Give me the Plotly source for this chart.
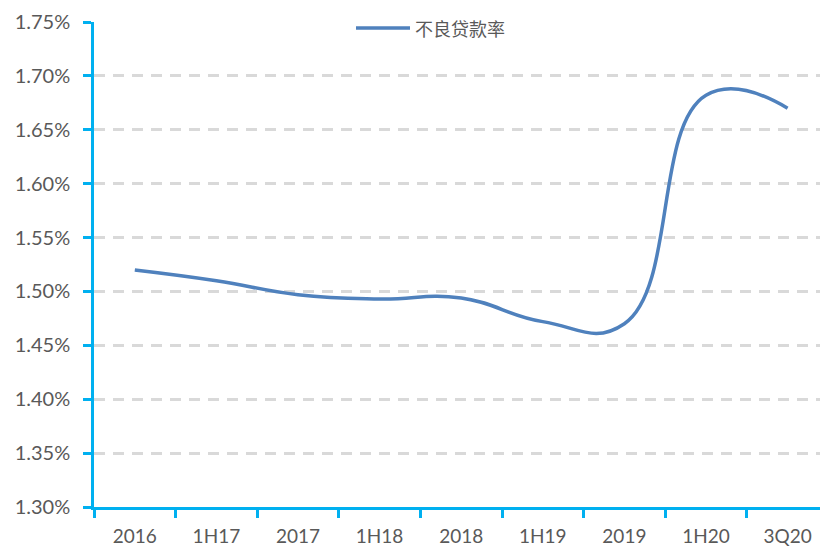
import plotly.graph_objects as go

categories = ["2016", "1H17", "2017", "1H18", "2018", "1H19", "2019", "1H20", "3Q20"]
npl_ratio = [1.52, 1.51, 1.497, 1.493, 1.494, 1.472, 1.47, 1.682, 1.67]
series_name = "不良贷款率"
y_ticks = [1.30, 1.35, 1.40, 1.45, 1.50, 1.55, 1.60, 1.65, 1.70, 1.75]
y_ticktext = [f"{v:.2f}%" for v in y_ticks]

LINE_COLOR = "#4F81BD"
AXIS_COLOR = "#00B0F0"
TEXT_COLOR = "#595959"
GRID_COLOR = "#D9D9D9"

fig = go.Figure()
fig.add_trace(go.Scatter(
    x=categories, y=npl_ratio, mode="lines", name=series_name,
    line=dict(color=LINE_COLOR, width=3.5, shape="spline", smoothing=1.3),
    showlegend=False,
))

# custom legend (white box over top gridline, long line sample, label)
fig.add_shape(type="rect", xref="paper", yref="paper",
              x0=(350 - 94) / 726, x1=(512 - 94) / 726, y0=1 - 18 / 485, y1=1 + 14 / 485,
              fillcolor="white", line=dict(width=0), layer="above")
fig.add_shape(type="line", xref="paper", yref="paper",
              x0=(356 - 94) / 726, x1=(410 - 94) / 726, y0=1 - 6 / 485, y1=1 - 6 / 485,
              line=dict(color=LINE_COLOR, width=3.5), layer="above")
fig.add_annotation(text=series_name, xref="paper", yref="paper",
                   x=(413 - 94) / 726, y=1 - 6 / 485, xanchor="left", yanchor="middle",
                   showarrow=False,
                   font=dict(family="Noto Sans CJK SC", size=18, color=TEXT_COLOR))

fig.update_layout(
    width=820, height=548,
    margin=dict(l=94, r=0, t=22, b=41, autoexpand=False),
    paper_bgcolor="white", plot_bgcolor="white",
    font=dict(family="Lato", size=20, color=TEXT_COLOR),
)
fig.update_xaxes(
    type="category", range=[-0.5, -0.5 + 726 / 81.6], automargin=False,
    showline=True, linecolor=AXIS_COLOR, linewidth=2.5,
    ticks="outside", tickson="boundaries", ticklen=8, tickwidth=2.5, tickcolor=AXIS_COLOR,
    showgrid=False, ticklabelstandoff=10,
    tickfont=dict(family="Lato", size=19, color=TEXT_COLOR),
)
fig.update_yaxes(
    range=[1.30, 1.75], tickvals=y_ticks, ticktext=y_ticktext, automargin=False,
    showline=True, linecolor=AXIS_COLOR, linewidth=2.5,
    ticks="outside", ticklen=8, tickwidth=2.5, tickcolor=AXIS_COLOR,
    showgrid=True, gridcolor=GRID_COLOR, gridwidth=2.5, griddash="11px,8px",
    zeroline=False, ticklabelstandoff=9,
    tickfont=dict(family="Lato", size=20, color=TEXT_COLOR),
)

fig.write_html("out.html",
               config={"displayModeBar": False},
               post_script="document.body.style.margin='0px';document.body.style.overflow='hidden';")
